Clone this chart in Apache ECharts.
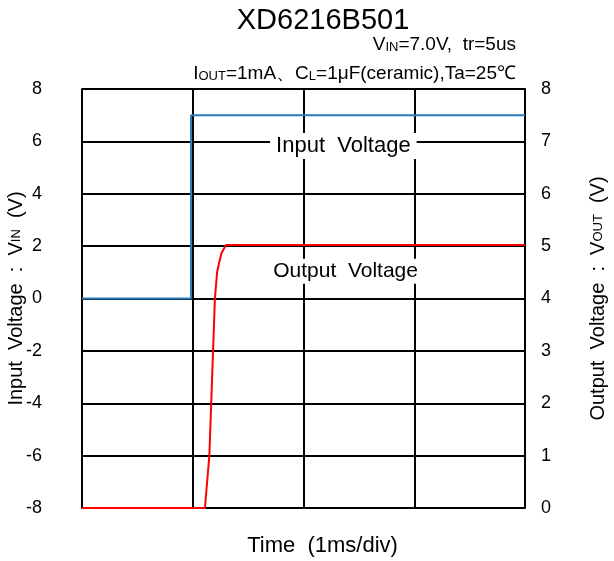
<!DOCTYPE html>
<html>
<head>
<meta charset="utf-8">
<script src="https://cdn.jsdelivr.net/npm/echarts@6/dist/echarts.min.js"></script>
<style>
html, body { margin: 0; padding: 0; background: #fff; }
#main { width: 614px; height: 561px; }
</style>
</head>
<body>
<div id="main"></div>
<script>
// time axis in ms (1ms/div), 4 divisions
var timeTicks = [0, 1, 2, 3, 4];
var vinTicks = [-8, -6, -4, -2, 0, 2, 4, 6, 8];
var voutTicks = [0, 1, 2, 3, 4, 5, 6, 7, 8];

/* input voltage, left axis */
var vinData = [
    [0, 0], [0.985, 0], [0.985, 7], [4, 7]
];
/* output voltage, right axis */
var voutData = [
    [0, 0], [1.11, 0], [1.15, 1.0], [1.18, 2.8], [1.20, 4.0], [1.22, 4.5],
    [1.24, 4.7], [1.26, 4.87], [1.30, 5.02], [4, 5.02]
];

var font = 'Liberation Sans';
var subRich = {
    n: { fontSize: 19, fontFamily: font, fontWeight: 'normal', color: '#000', verticalAlign: 'bottom', lineHeight: 24 },
    s: { fontSize: 13, fontFamily: font, fontWeight: 'normal', color: '#000', verticalAlign: 'bottom', lineHeight: 20 }
};
var axisRich = {
    n: { fontSize: 20, fontFamily: font, color: '#000' },
    s: { fontSize: 13, fontFamily: font, color: '#000' }
};

var myChart = echarts.init(document.getElementById('main'));

var option = {
    backgroundColor: '#fff',
    animation: false,
    title: [
        {
            text: 'XD6216B501',
            left: 318, top: 1,
            textAlign: 'center',
            textStyle: { fontSize: 29, fontWeight: 'normal', fontFamily: font, color: '#000' }
        },
        {
            text: '{n|V}{s|IN}{n|=7.0V,  tr=5us}',
            right: 93, top: 25,
            textStyle: { rich: subRich }
        },
        {
            text: '{n|I}{s|OUT}{n|=1mA、C}{s|L}{n|=1μF(ceramic),Ta=25℃}',
            right: 93, top: 54,
            textStyle: { rich: subRich }
        }
    ],
    grid: { left: 82, right: 89, top: 89, bottom: 53, outerBoundsMode: 'none' },
    xAxis: {
        type: 'value',
        min: timeTicks[0], max: timeTicks[timeTicks.length - 1], interval: 1,
        name: 'Time  (1ms/div)',
        nameLocation: 'middle',
        nameGap: 27,
        nameTextStyle: { fontSize: 22, fontFamily: font, color: '#000', padding: [0, 0, 0, 38] },
        axisLine: { lineStyle: { color: '#000', width: 2 } },
        axisTick: { show: false },
        axisLabel: { show: false },
        splitLine: { show: true, lineStyle: { color: '#000', width: 2 } }
    },
    yAxis: [
        {
            type: 'value',
            min: vinTicks[0], max: vinTicks[vinTicks.length - 1], interval: 2,
            position: 'left',
            name: '{n|Input  Voltage  :  V}{s|IN}{n|  (V)}',
            nameLocation: 'middle',
            nameRotate: 90,
            nameGap: 56,
            nameMoveOverlap: false,
            nameTextStyle: { rich: axisRich },
            axisLine: { show: true, lineStyle: { color: '#000', width: 2 } },
            axisTick: { show: false },
            axisLabel: { fontSize: 18, fontFamily: font, color: '#000', margin: 40 },
            splitLine: { show: true, lineStyle: { color: '#000', width: 2 } }
        },
        {
            type: 'value',
            min: voutTicks[0], max: voutTicks[voutTicks.length - 1], interval: 1,
            position: 'right',
            name: '{n|Output  Voltage  :  V}{s|OUT}{n|  (V)}',
            nameLocation: 'middle',
            nameRotate: 90,
            nameGap: 63,
            nameMoveOverlap: false,
            nameTextStyle: { rich: axisRich },
            axisLine: { show: true, lineStyle: { color: '#000', width: 2 } },
            axisTick: { show: false },
            axisLabel: { fontSize: 18, fontFamily: font, color: '#000', margin: 16 },
            splitLine: { show: false }
        }
    ],
    series: [
        {
            name: 'Input Voltage',
            type: 'line',
            yAxisIndex: 0,
            data: vinData,
            showSymbol: false,
            lineStyle: { color: '#2a7ab9', width: 2 },
            markPoint: {
                symbol: 'rect', symbolSize: 0,
                label: {
                    show: true, position: 'inside',
                    formatter: 'Input  Voltage',
                    fontSize: 22, fontFamily: font, color: '#000',
                    backgroundColor: '#fff', padding: [2, 6]
                },
                data: [{ coord: [2.36, 5.82] }]
            }
        },
        {
            name: 'Output Voltage',
            type: 'line',
            yAxisIndex: 1,
            data: voutData,
            showSymbol: false,
            lineStyle: { color: '#ff0000', width: 2 },
            markPoint: {
                symbol: 'rect', symbolSize: 0,
                label: {
                    show: true, position: 'inside',
                    formatter: 'Output  Voltage',
                    fontSize: 21, fontFamily: font, color: '#000',
                    backgroundColor: '#fff', padding: [2, 6]
                },
                data: [{ coord: [2.38, 4.52] }]
            }
        }
    ]
};

myChart.setOption(option);
</script>
</body>
</html>
